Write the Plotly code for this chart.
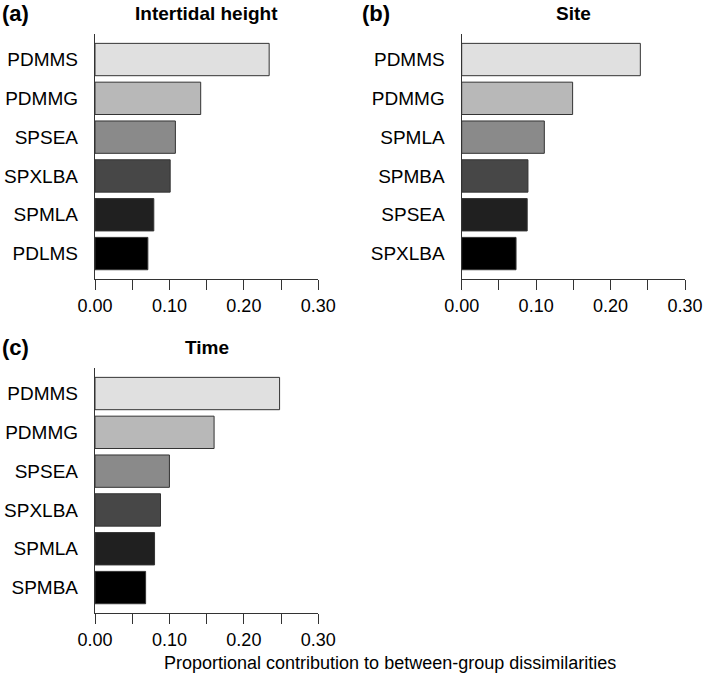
import plotly.graph_objects as go

# Data (top-to-bottom order as shown)
species_a = ["PDMMS", "PDMMG", "SPSEA", "SPXLBA", "SPMLA", "PDLMS"]
values_a = [0.234, 0.142, 0.108, 0.101, 0.079, 0.071]

species_b = ["PDMMS", "PDMMG", "SPMLA", "SPMBA", "SPSEA", "SPXLBA"]
values_b = [0.240, 0.149, 0.111, 0.089, 0.088, 0.073]

species_c = ["PDMMS", "PDMMG", "SPSEA", "SPXLBA", "SPMLA", "SPMBA"]
values_c = [0.248, 0.160, 0.100, 0.088, 0.080, 0.068]

panel_titles = ["Intertidal height", "Site", "Time"]
panel_letters = ["(a)", "(b)", "(c)"]
bar_colors = ["#e0e0e0", "#b8b8b8", "#8a8a8a", "#474747", "#202020", "#000000"]
x_tickvals = [0, 0.05, 0.10, 0.15, 0.20, 0.25, 0.30]
x_ticktext = ["0.00", "", "0.10", "", "0.20", "", "0.30"]
x_title = "Proportional contribution to between-group dissimilarities"

FONT = "Liberation Sans, Arial, Helvetica, sans-serif"
W, H = 709, 676

fig = go.Figure()

panels = [
    (species_a, values_a, "x", "y", (95, 318.3), (34.3, 278.8)),
    (species_b, values_b, "x2", "y2", (461.7, 685.0), (34.3, 278.8)),
    (species_c, values_c, "x3", "y3", (95, 318.3), (368.3, 612.8)),
]

layout = dict(
    width=W, height=H,
    margin=dict(l=0, r=0, t=0, b=0),
    paper_bgcolor="white", plot_bgcolor="white",
    showlegend=False,
    bargap=1 - 1 / 1.2,
    font=dict(family=FONT, color="black"),
)

annotations = []
for i, (cats, vals, xa, ya, (x0, x1), (ytop, ybot)) in enumerate(panels):
    fig.add_trace(go.Bar(
        x=vals, y=cats, orientation="h",
        marker=dict(color=bar_colors, line=dict(color="#333333", width=1)),
        xaxis=xa, yaxis=ya, hoverinfo="skip",
    ))
    xkey = "xaxis" if xa == "x" else "xaxis" + xa[1:]
    ykey = "yaxis" if ya == "y" else "yaxis" + ya[1:]
    layout[xkey] = dict(
        domain=[x0 / W, x1 / W], anchor=ya, range=[0, 0.30],
        tickvals=x_tickvals, ticktext=x_ticktext,
        ticks="outside", ticklen=10, tickwidth=1, tickcolor="#333333",
        showline=True, linecolor="#333333", linewidth=1.2,
        showgrid=False, zeroline=False, automargin=False,
        tickfont=dict(size=18, family=FONT, color="black"),
        ticklabelstandoff=0,
    )
    layout[ykey] = dict(
        domain=[1 - ybot / H, 1 - ytop / H], anchor=xa,
        type="category", categoryorder="array", categoryarray=cats,
        range=[5.65, -0.65],
        ticks="", showline=True, linecolor="#333333", linewidth=1.2,
        showgrid=False, zeroline=False, automargin=False,
        tickfont=dict(size=19, family=FONT, color="black"),
        ticklabelstandoff=12,
    )
    # panel title centered over axis
    annotations.append(dict(
        text="<b>%s</b>" % panel_titles[i], xref="paper", yref="paper",
        x=(x0 + x1) / 2 / W, y=1 - (ytop - 21) / H,
        xanchor="center", yanchor="middle", showarrow=False,
        font=dict(size=19, family=FONT, color="black"),
    ))
    letter_x = 0 if i != 1 else 360
    annotations.append(dict(
        text="<b>%s</b>" % panel_letters[i], xref="paper", yref="paper",
        x=letter_x / W, y=1 - (ytop - 21) / H,
        xanchor="left", yanchor="middle", showarrow=False,
        font=dict(size=22, family=FONT, color="black"),
    ))

annotations.append(dict(
    text=x_title, xref="paper", yref="paper",
    x=390 / W, y=1 - 663 / H, xanchor="center", yanchor="middle",
    showarrow=False, font=dict(size=18, family=FONT, color="black"),
))
layout["annotations"] = annotations
fig.update_layout(**layout)
fig.write_html(
    "out.html",
    config={"displayModeBar": False, "staticPlot": True},
    post_script="document.body.style.margin='0';document.body.style.overflow='hidden';",
)
